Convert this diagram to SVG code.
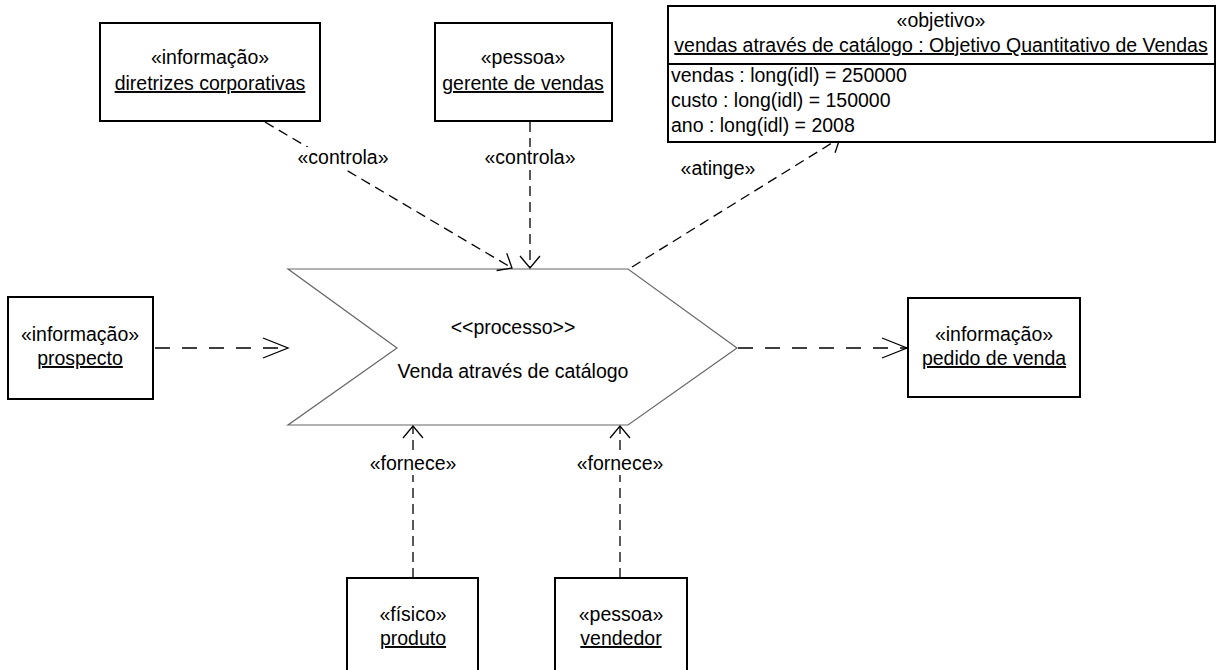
<svg xmlns="http://www.w3.org/2000/svg" width="1220" height="670" viewBox="0 0 1220 670">
  <style>
    text { font-family: "Liberation Sans", Arial, sans-serif; font-size: 19.5px; fill: #000; }
    .c { text-anchor: middle; }
    .u { text-decoration: underline; }
    .box { fill: #fff; stroke: #000; stroke-width: 2; }
    .proc { fill: #fff; stroke: #666; stroke-width: 1.2; }
    .dep { fill: none; stroke: #000; stroke-width: 1.3; stroke-dasharray: 10 6; }
    .dep.flow { stroke-dasharray: 15 12; }
    .lbl-bg { fill: #fff; }
  </style>
  <defs>
    <marker id="openShort" markerUnits="userSpaceOnUse" orient="auto" markerWidth="30" markerHeight="30" refX="15" refY="15" viewBox="0 0 30 30">
      <path d="M3,5 L15,15 L3,25" fill="none" stroke="#000" stroke-width="1.3"/>
    </marker>
    <marker id="openLong" markerUnits="userSpaceOnUse" orient="auto" markerWidth="30" markerHeight="30" refX="27" refY="15" viewBox="0 0 30 30">
      <path d="M2,5 L27,15 L2,25" fill="none" stroke="#000" stroke-width="1.3"/>
    </marker>
  </defs>

  <!-- process -->
  <g id="processo">
    <polygon class="proc" points="288,269 628,269 737,348 628,425 288,425 397,348"/>
    <text class="c" x="513" y="334">&lt;&lt;processo&gt;&gt;</text>
    <text class="c" x="513" y="378">Venda através de catálogo</text>
  </g>

  <!-- connectors -->
  <g id="connectors">
    <line class="dep" x1="265" y1="122" x2="512" y2="268" marker-end="url(#openShort)"/>
    <line class="dep" x1="530" y1="122" x2="530" y2="268" marker-end="url(#openShort)"/>
    <line class="dep" x1="632" y1="267" x2="840" y2="138" marker-end="url(#openShort)"/>
    <line class="dep flow" x1="155" y1="348" x2="288" y2="348" marker-end="url(#openLong)"/>
    <line class="dep flow" x1="738" y1="348" x2="907" y2="348" marker-end="url(#openLong)"/>
    <line class="dep" x1="413" y1="578" x2="413" y2="426" marker-end="url(#openShort)"/>
    <line class="dep" x1="620" y1="578" x2="620" y2="426" marker-end="url(#openShort)"/>
    <rect class="lbl-bg" x="297" y="147" width="92" height="22"/>
    <rect class="lbl-bg" x="484" y="147" width="92" height="22"/>
    <rect class="lbl-bg" x="374" y="453" width="78" height="22"/>
    <rect class="lbl-bg" x="581" y="453" width="78" height="22"/>
    <text class="c" x="343" y="164">«controla»</text>
    <text class="c" x="530" y="164">«controla»</text>
    <text class="c" x="718" y="175">«atinge»</text>
    <text class="c" x="413" y="470">«fornece»</text>
    <text class="c" x="620" y="470">«fornece»</text>
  </g>

  <g id="diretrizes">
    <rect class="box" x="100" y="23" width="220" height="98"/>
    <text class="c" x="210" y="64">«informação»</text>
    <text class="c u" x="210" y="90">diretrizes corporativas</text>
  </g>

  <g id="gerente">
    <rect class="box" x="435" y="23" width="177" height="98"/>
    <text class="c" x="523" y="64">«pessoa»</text>
    <text class="c u" x="523" y="90">gerente de vendas</text>
  </g>

  <g id="objetivo">
    <rect class="box" x="668" y="6" width="547" height="136"/>
    <line x1="668" y1="64" x2="1215" y2="64" stroke="#000" stroke-width="2"/>
    <text class="c" x="941" y="27">«objetivo»</text>
    <text class="c u" x="941" y="52">vendas através de catálogo : Objetivo Quantitativo de Vendas</text>
    <text x="671" y="82">vendas : long(idl) = 250000</text>
    <text x="671" y="107">custo : long(idl) = 150000</text>
    <text x="671" y="132">ano : long(idl) = 2008</text>
  </g>

  <g id="prospecto">
    <rect class="box" x="8" y="297" width="145" height="102"/>
    <text class="c" x="80" y="341">«informação»</text>
    <text class="c u" x="80" y="365">prospecto</text>
  </g>

  <g id="pedido">
    <rect class="box" x="908" y="298" width="172" height="99"/>
    <text class="c" x="994" y="341">«informação»</text>
    <text class="c u" x="994" y="365">pedido de venda</text>
  </g>

  <g id="produto">
    <rect class="box" x="347" y="578" width="131" height="110"/>
    <text class="c" x="413" y="621">«físico»</text>
    <text class="c u" x="413" y="645">produto</text>
  </g>

  <g id="vendedor">
    <rect class="box" x="555" y="578" width="132" height="110"/>
    <text class="c" x="621" y="621">«pessoa»</text>
    <text class="c u" x="621" y="645">vendedor</text>
  </g>
</svg>
